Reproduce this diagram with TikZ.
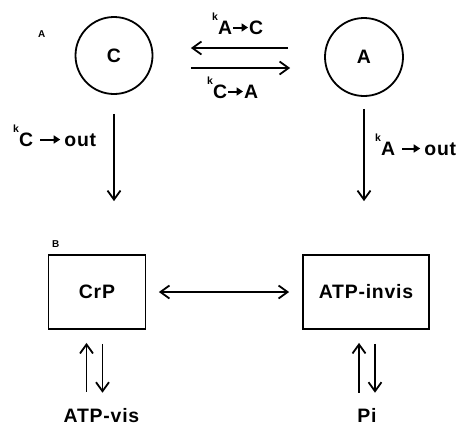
\documentclass[tikz,border=0pt]{standalone}
\usepackage{fontspec}
\setmainfont{Liberation Sans}
\newfontfamily\lab{Liberation Sans}[LetterSpace=4]
\usetikzlibrary{arrows.meta}
\newcommand\kk{\raisebox{13.5bp}{\fontsize{10.5}{10.5}\selectfont k}}
\newcommand\rarr[1]{\tikz[baseline=0pt]\draw[line width=2bp,-{Triangle[length=6.5bp,width=8bp]}](0bp,6.5bp)--(#1,6.5bp);}
\begin{document}
\begin{tikzpicture}[x=1bp,y=-1bp,
  txt/.style={font=\lab\bfseries\fontsize{19.5}{19.5}\selectfont, inner sep=0pt},
  small/.style={font=\lab\bfseries\fontsize{10}{10}\selectfont, inner sep=0pt},
  comp/.style={draw, circle, line width=1.8bp, minimum size=77bp, txt},
  stage/.style={draw, rectangle, line width=1.8bp, txt},
  arr/.style={line width=1.8bp, -{Straight Barb[length=9bp,width=13bp,line width=1.8bp]}},
  darr/.style={line width=1.8bp, {Straight Barb[length=9bp,width=13bp,line width=1.8bp]}-{Straight Barb[length=9bp,width=13bp,line width=1.8bp]}}]
\useasboundingbox (0,0) rectangle (458,426);
% part A
\node[small, anchor=base west] (labA) at (38,37) {A};
\node[comp] (circC) at (114,55.5) {C};
\node[comp, minimum size=78bp] (circA) at (364,57) {A};
\coordinate (yTop) at (0,48);
\coordinate (yBot) at (0,68);
\draw[arr, shorten <=36bp, shorten >=37.5bp] (circA.west |- yTop) -- (circC.east |- yTop);
\draw[arr, shorten <=37.5bp, shorten >=34bp] (circC.east |- yBot) -- (circA.west |- yBot);
\node[txt, anchor=base west] (kAC) at (212,34) {\kk A\rarr{15bp}C};
\node[txt, anchor=base west] (kCA) at (207,98) {\kk C\rarr{15bp}A};
% part B
\node[small, anchor=base west] (labB) at (52,247) {B};
\node[stage, minimum width=97bp, minimum height=74bp] (crp) at (97,292) {CrP};
\node[stage, minimum width=126bp, minimum height=74bp] (atpi) at (366,292) {ATP-invis};
\draw[arr, shorten <=19bp, shorten >=53bp] (circC.south) -- (circC.south |- crp.north);
\draw[arr, shorten <=12bp, shorten >=53bp] (circA.south) -- (circA.south |- atpi.north);
\node[txt, anchor=base west] (kCout) at (13,146) {\kk C \rarr{20bp}\,out};
\node[txt, anchor=base west] (kAout) at (375,155) {\kk A \rarr{18bp}\,out};
\draw[darr, shorten <=12.5bp, shorten >=13bp] (crp.east) -- (atpi.west);
\node[txt, anchor=base] (atpv) at (101.5,422) {ATP-vis};
\node[txt, anchor=base] (pi) at (367,422) {Pi};
\coordinate (xL1) at (86.5,0);
\coordinate (xL2) at (102.5,0);
\coordinate (xR1) at (359,0);
\coordinate (xR2) at (375,0);
\draw[arr, shorten <=16bp, shorten >=13bp] (xL1 |- atpv.north) -- (xL1 |- crp.south);
\draw[arr, shorten <=14bp, shorten >=15bp] (xL2 |- crp.south) -- (xL2 |- atpv.north);
\draw[arr, shorten <=15bp, shorten >=13bp] (xR1 |- pi.north) -- (xR1 |- atpi.south);
\draw[arr, shorten <=14bp, shorten >=15bp] (xR2 |- atpi.south) -- (xR2 |- pi.north);
\end{tikzpicture}
\end{document}
